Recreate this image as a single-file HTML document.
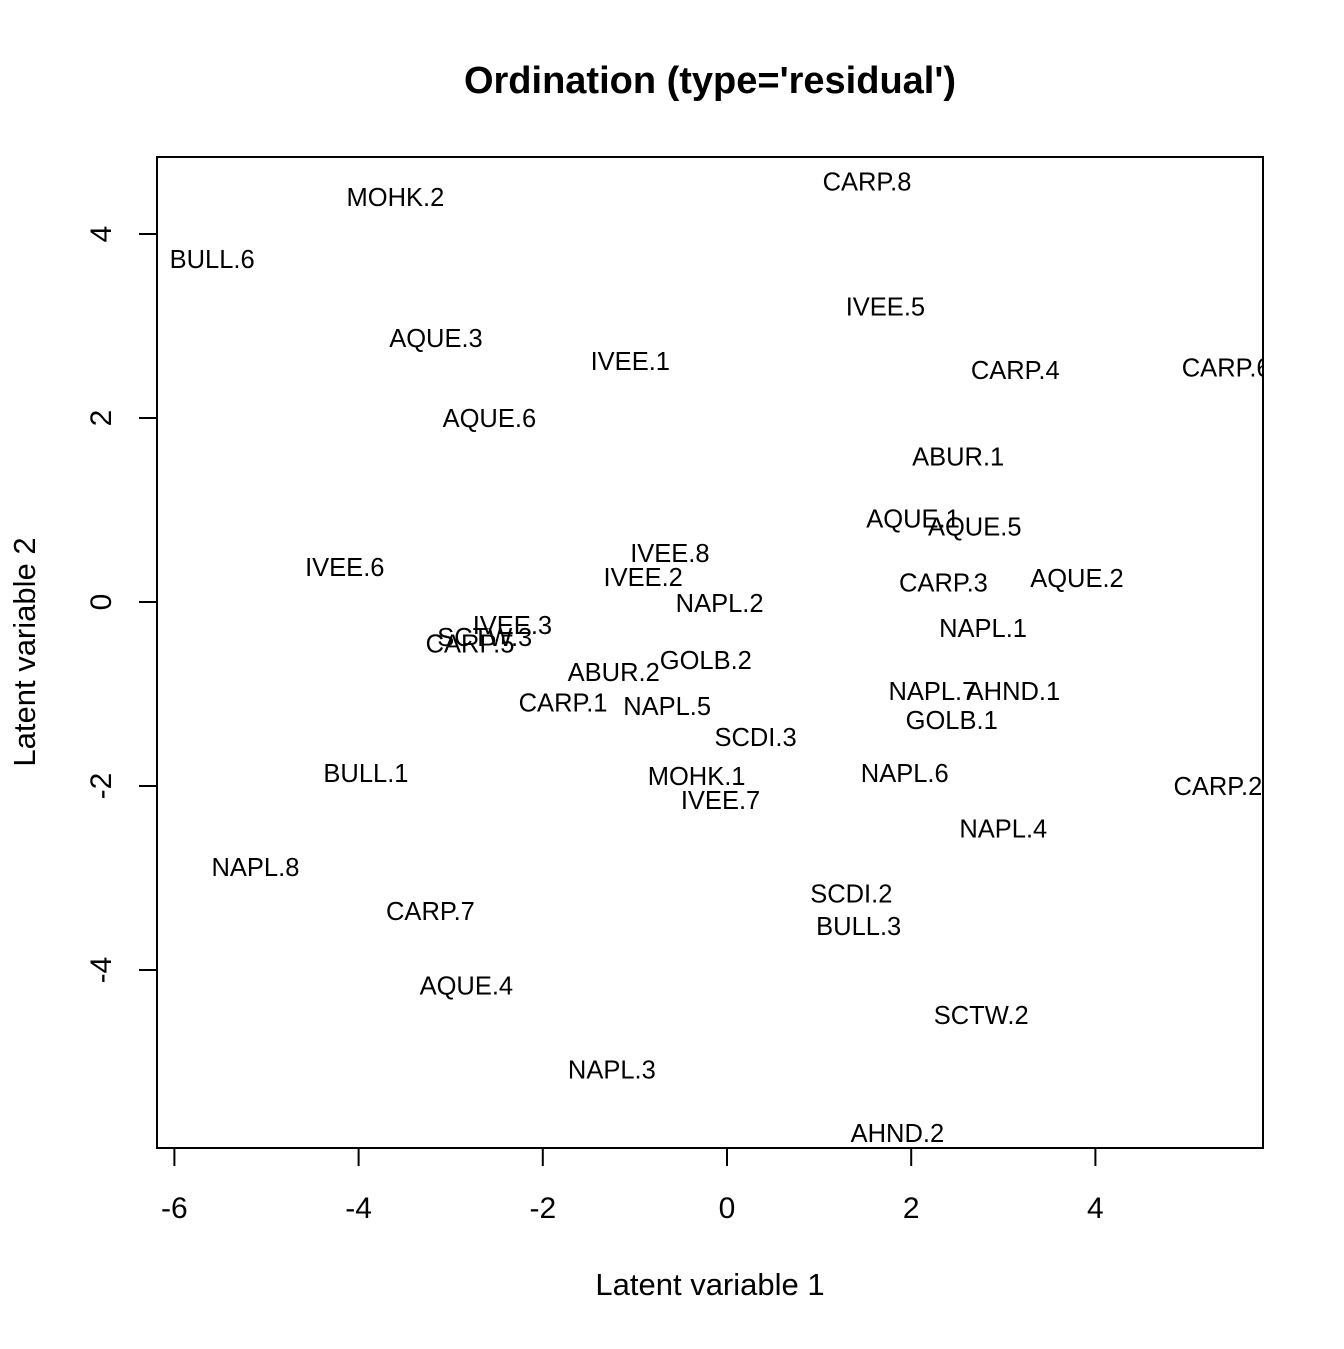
<!DOCTYPE html>
<html><head><meta charset="utf-8"><style>
html,body{margin:0;padding:0;background:#fff;}
svg text{font-family:"Liberation Sans",Arial,sans-serif;fill:#000;}
</style></head><body>
<svg id="chart" width="1344" height="1344" viewBox="0 0 1344 1344" xmlns="http://www.w3.org/2000/svg">
<defs><clipPath id="plotclip"><rect x="157" y="157" width="1106" height="991"/></clipPath></defs>
<rect width="1344" height="1344" fill="#fff"/>
<text x="710" y="93" text-anchor="middle" font-size="38" font-weight="bold">Ordination (type='residual')</text>
<rect x="157" y="157" width="1106" height="991" fill="none" stroke="#000" stroke-width="2"/>
<g id="xaxis"></g>
<g id="yaxis"></g>
<g id="pts" clip-path="url(#plotclip)"></g>
<text x="710" y="1295" text-anchor="middle" font-size="31">Latent variable 1</text>
<text transform="translate(35,652) rotate(-90)" text-anchor="middle" font-size="31">Latent variable 2</text>
</svg>
<script>
const labels=["MOHK.2","CARP.8","BULL.6","IVEE.5","AQUE.3","IVEE.1","CARP.4","CARP.6","AQUE.6","ABUR.1","AQUE.1","AQUE.5","IVEE.8","IVEE.6","IVEE.2","CARP.3","AQUE.2","NAPL.2","NAPL.1","IVEE.3","SCTW.3","CARP.5","ABUR.2","GOLB.2","NAPL.7","AHND.1","CARP.1","NAPL.5","GOLB.1","SCDI.3","BULL.1","MOHK.1","NAPL.6","IVEE.7","CARP.2","NAPL.4","NAPL.8","SCDI.2","CARP.7","BULL.3","AQUE.4","SCTW.2","NAPL.3","AHND.2"];
const lv1=[-3.60,1.52,-5.59,1.72,-3.16,-1.05,3.13,5.42,-2.58,2.51,2.02,2.69,-0.62,-4.15,-0.91,2.35,3.80,-0.08,2.78,-2.33,-2.63,-2.79,-1.23,-0.23,2.23,3.11,-1.78,-0.65,2.44,0.31,-3.92,-0.33,1.93,-0.07,5.33,3.00,-5.12,1.35,-3.22,1.43,-2.83,2.76,-1.25,1.85];
const lv2=[4.40,4.57,3.73,3.21,2.87,2.62,2.52,2.55,2.00,1.58,0.91,0.82,0.53,0.38,0.27,0.21,0.26,-0.01,-0.28,-0.25,-0.38,-0.45,-0.76,-0.63,-0.97,-0.97,-1.09,-1.13,-1.28,-1.47,-1.86,-1.89,-1.86,-2.15,-2.00,-2.46,-2.88,-3.17,-3.36,-3.52,-4.17,-4.49,-5.08,-5.77];
const xTicks=[-6,-4,-2,0,2,4];
const yTicks=[-4,-2,0,2,4];
const NS="http://www.w3.org/2000/svg";
const sx=v=>727+v*92.1;
const sy=v=>602-v*92;
function mk(tag,attrs,parent){const e=document.createElementNS(NS,tag);for(const k in attrs)e.setAttribute(k,attrs[k]);parent.appendChild(e);return e;}
const xa=document.getElementById('xaxis'),ya=document.getElementById('yaxis'),pts=document.getElementById('pts');
mk('line',{x1:sx(xTicks[0]),x2:sx(xTicks[xTicks.length-1]),y1:1148,y2:1148,stroke:'#000','stroke-width':2},xa);
xTicks.forEach(t=>{
  const l=mk('line',{x1:sx(t),x2:sx(t),y1:1148,y2:1166,stroke:'#000','stroke-width':2},xa);
  
  
  const tx=mk('text',{x:sx(t),y:1218,'text-anchor':'middle','font-size':30},xa);
  tx.textContent=t;
  
  
});
mk('line',{x1:157,x2:157,y1:sy(yTicks[0]),y2:sy(yTicks[yTicks.length-1]),stroke:'#000','stroke-width':2},ya);
yTicks.forEach(t=>{
  const l=mk('line',{x1:139,x2:157,y1:sy(t),y2:sy(t),stroke:'#000','stroke-width':2},ya);
  
  
  const tx=mk('text',{transform:`translate(111,${sy(t)}) rotate(-90)`,'text-anchor':'middle','font-size':30},ya);
  tx.textContent=t;
  
  
});
labels.forEach((s,i)=>{
  const tx=mk('text',{x:sx(lv1[i]),y:sy(lv2[i])+9,'text-anchor':'middle','font-size':25.5},pts);
  tx.textContent=s;
  
  
});
</script>
</body></html>
